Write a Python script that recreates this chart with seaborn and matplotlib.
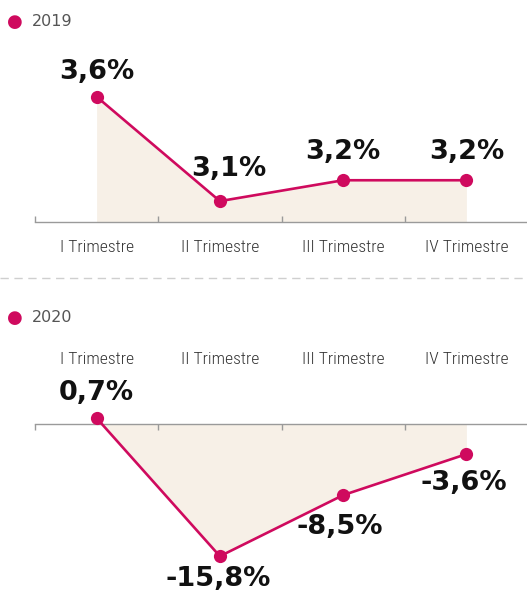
import matplotlib
matplotlib.use("Agg")
import matplotlib.pyplot as plt
from matplotlib import font_manager
from matplotlib.font_manager import FontProperties
import seaborn as sns
import pandas as pd
import glob

# ---- data ----
categories = ["I Trimestre", "II Trimestre", "III Trimestre", "IV Trimestre"]
values_2019 = [3.6, 3.1, 3.2, 3.2]
values_2020 = [0.7, -15.8, -8.5, -3.6]
labels_2019 = ["3,6%", "3,1%", "3,2%", "3,2%"]
labels_2020 = ["0,7%", "-15,8%", "-8,5%", "-3,6%"]
years = ["2019", "2020"]

sns.set_theme(style="white")
plt.rcParams["font.family"] = ["DejaVu Sans"]


def find_font(patterns):
    files = [f.fname for f in font_manager.fontManager.ttflist]
    files += glob.glob("/usr/share/fonts/**/*.ttf", recursive=True)
    for p in patterns:
        for fn in files:
            if fn.split("/")[-1].lower() == p.lower():
                return fn
    return None


narrow_file = find_font(["LiberationSansNarrow-Regular.ttf", "RobotoCondensed-Light.ttf",
                         "RobotoCondensed-Regular.ttf", "DejaVuSansCondensed.ttf"])
if narrow_file:
    tick_fp = FontProperties(fname=narrow_file, size=12.6)
else:
    tick_fp = FontProperties(family="DejaVu Sans", size=10)

LINE = "#cf0a5e"
FILL = "#f7f0e7"
AXC = "#9a9a9a"
TXT = "#333333"

W, H = 527, 595
fig = plt.figure(figsize=(W / 100, H / 100), dpi=100)
fig.patch.set_facecolor("white")


def frac_box(left_px, top_px, right_px, bottom_px):
    return [left_px / W, 1 - bottom_px / H, (right_px - left_px) / W, (bottom_px - top_px) / H]


df19 = pd.DataFrame({"x": range(len(categories)), "y": values_2019})
df20 = pd.DataFrame({"x": range(len(categories)), "y": values_2020})

# ---- top chart (2019) ----
ax1 = fig.add_axes(frac_box(35, 55, 528, 222))
ax1.set_axisbelow(False)
ax1.set_xlim(-0.5, 3.5)
ax1.set_ylim(3.0, 3.8)
ax1.fill_between(df19["x"], df19["y"], 3.0, color=FILL, lw=0, zorder=0.2)
sns.lineplot(data=df19, x="x", y="y", ax=ax1, color=LINE, lw=1.9, marker="o",
             markersize=9.5, markeredgewidth=0, zorder=3, clip_on=False)
for s in ["top", "left", "right"]:
    ax1.spines[s].set_visible(False)
ax1.spines["bottom"].set_color(AXC)
ax1.spines["bottom"].set_linewidth(1.0)
ax1.set_yticks([])
ax1.set_xticks(range(len(categories)))
ax1.set_xticklabels(categories, fontproperties=tick_fp, color=TXT)
ax1.tick_params(axis="x", which="major", length=0, pad=13, bottom=True)
ax1.set_xticks([-0.5, 0.5, 1.5, 2.5], minor=True)
ax1.tick_params(axis="x", which="minor", length=4, width=1, color=AXC, direction="in",
                bottom=True, top=False)
ax1.set_xlabel("")
ax1.set_ylabel("")
off19 = [(0, 25), (9, 32), (0, 28), (0, 28)]
for i, (v, lab) in enumerate(zip(values_2019, labels_2019)):
    ax1.annotate(lab, (i, v), xytext=(off19[i][0] * 0.72, off19[i][1] * 0.72),
                 textcoords="offset points", ha="center", va="center",
                 fontsize=19.5, fontweight="bold", color="#111111", annotation_clip=False)

# ---- bottom chart (2020) ----
ax2 = fig.add_axes(frac_box(35, 424, 528, 583))
ax2.set_axisbelow(False)
ax2.set_xlim(-0.5, 3.5)
ax2.set_ylim(-19, 0)
ax2.fill_between(df20["x"], df20["y"], 0, color=FILL, lw=0, zorder=0.2)
sns.lineplot(data=df20, x="x", y="y", ax=ax2, color=LINE, lw=1.9, marker="o",
             markersize=9.5, markeredgewidth=0, zorder=3, clip_on=False)
for s in ["bottom", "left", "right"]:
    ax2.spines[s].set_visible(False)
ax2.spines["top"].set_color(AXC)
ax2.spines["top"].set_linewidth(1.0)
ax2.set_yticks([])
ax2.xaxis.tick_top()
ax2.set_xticks(range(len(categories)))
ax2.set_xticklabels(categories, fontproperties=tick_fp, color=TXT)
ax2.tick_params(axis="x", which="major", length=0, pad=41, top=True, bottom=False)
ax2.set_xticks([-0.5, 0.5, 1.5, 2.5], minor=True)
ax2.tick_params(axis="x", which="minor", length=4, width=1, color=AXC, direction="in",
                top=True, bottom=False)
ax2.set_xlabel("")
ax2.set_ylabel("")
off20 = [(0, 25), (-2, -23), (-3, -32), (-3, -29)]
for i, (v, lab) in enumerate(zip(values_2020, labels_2020)):
    ax2.annotate(lab, (i, v), xytext=(off20[i][0] * 0.72, off20[i][1] * 0.72),
                 textcoords="offset points", ha="center", va="center",
                 fontsize=19.5, fontweight="bold", color="#111111", annotation_clip=False)

# ---- year legends and separator ----
for yr, ypx in zip(years, [22, 318]):
    fig.text(15 / W, 1 - ypx / H, "\u25CF", color=LINE, fontsize=13, ha="center", va="center")
    fig.text(32 / W, 1 - ypx / H, yr, color="#555555", fontsize=11.5, ha="left", va="center")

fig.add_artist(plt.Line2D([0, 1], [1 - 278 / H, 1 - 278 / H], color="#cfcfcf", lw=1,
                          linestyle=(0, (6, 4)), transform=fig.transFigure))

fig.savefig("out.png", dpi=100, facecolor="white")
